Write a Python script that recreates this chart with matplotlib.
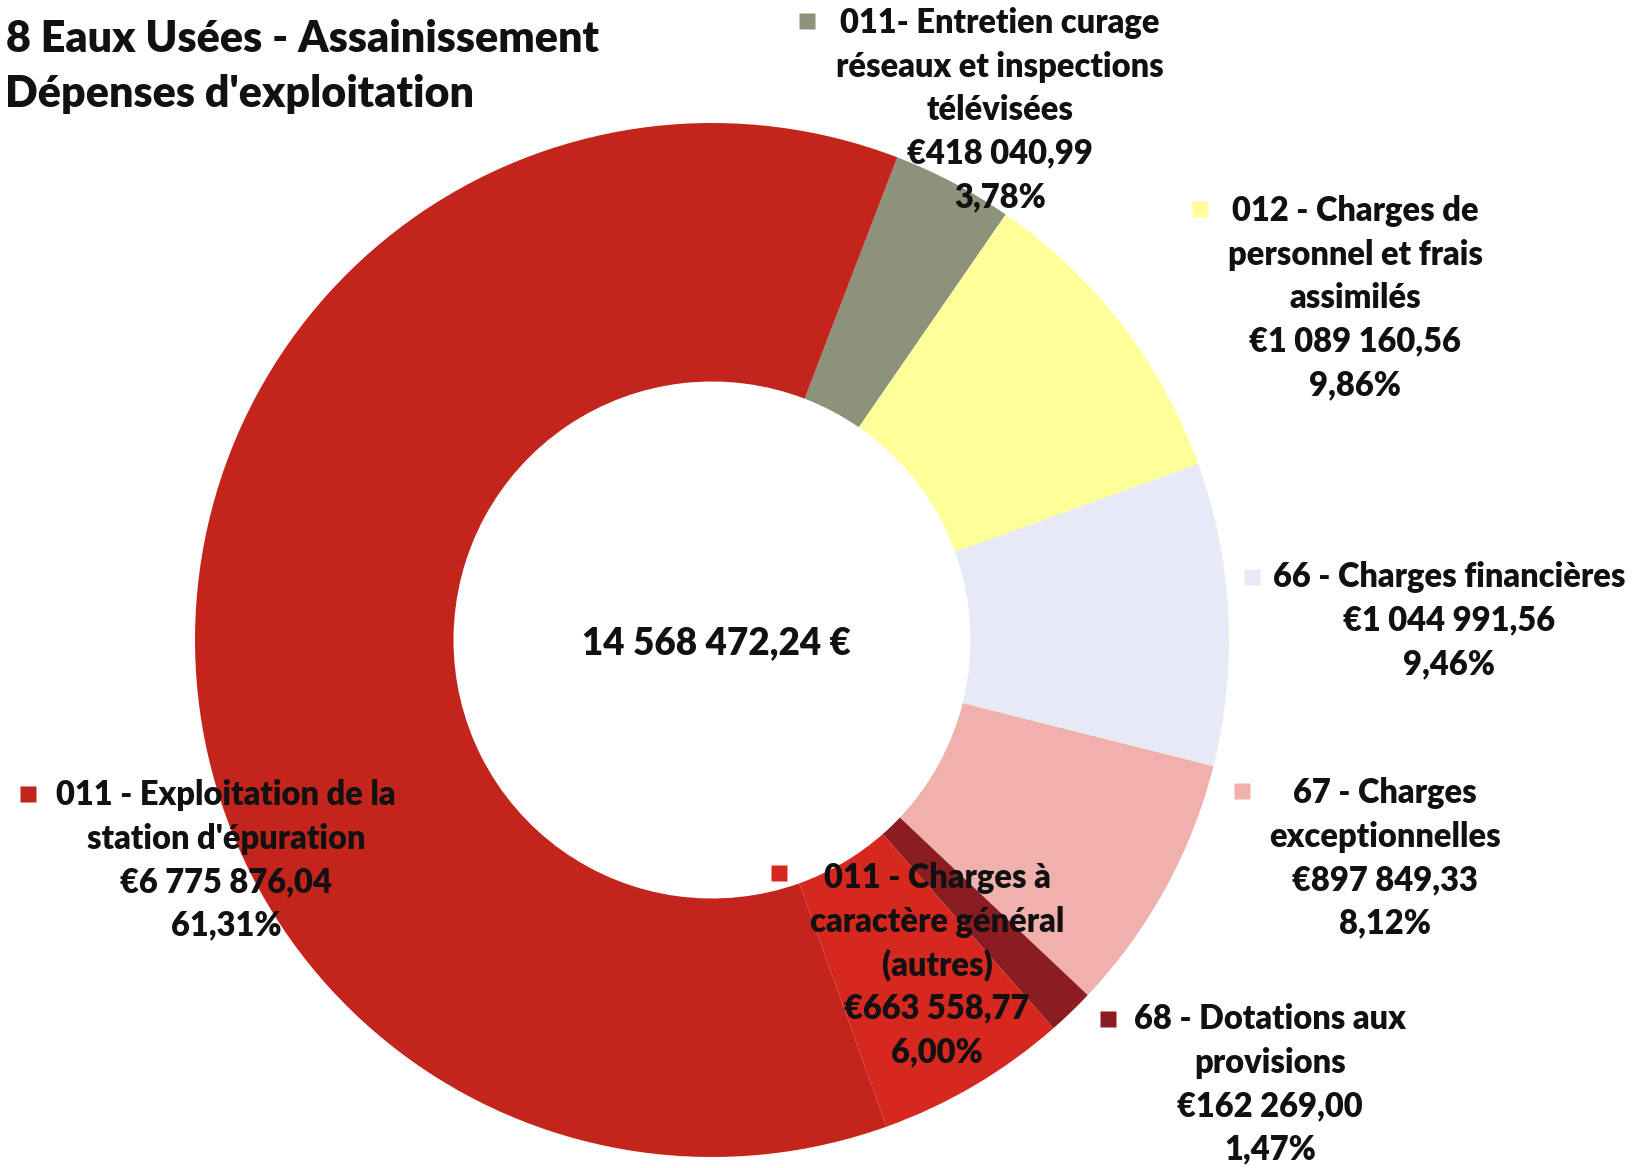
import matplotlib
matplotlib.use("Agg")
import matplotlib.pyplot as plt

# data (clockwise order, starting with the olive slice)
names = [
    ["011- Entretien curage", "réseaux et inspections", "télévisées"],
    ["012 - Charges de", "personnel et frais", "assimilés"],
    ["66 - Charges financières"],
    ["67 - Charges", "exceptionnelles"],
    ["68 - Dotations aux", "provisions"],
    ["011 - Charges à", "caractère général", "(autres)"],
    ["011 - Exploitation de la", "station d'épuration"],
]
amounts = [418040.99, 1089160.56, 1044991.56, 897849.33, 162269.00, 663558.77, 6775876.04]
percents = ["3,78%", "9,86%", "9,46%", "8,12%", "1,47%", "6,00%", "61,31%"]
colors = ["#8C937A", "#FFFF99", "#E7E9F7", "#F0B0AC", "#8B1C22", "#D6281F", "#C3241C"]
total_text = "14 568 472,24 €"
title_lines = ["8 Eaux Usées - Assainissement", "Dépenses d'exploitation"]

W, H = 1639, 1168
FONT = "Lato"
WEIGHT = "heavy"


def euro(v):
    s = f"{v:,.2f}".replace(",", " ").replace(".", ",")
    return "€" + s


fig = plt.figure(figsize=(W / 100, H / 100), dpi=100)
ax = fig.add_axes([0, 0, 1, 1])

# donut, pixel coordinates (y pointing down -> counterclock=True draws clockwise)
cx, cy, R = 712, 640, 517
ax.pie(amounts, colors=colors, center=(cx, cy), radius=R, startangle=-69,
       counterclock=True, wedgeprops=dict(width=R * 0.5, linewidth=0))
ax.set_xlim(0, W)
ax.set_ylim(H, 0)
ax.axis("off")

ax.text(716, 643, total_text, ha="center", va="center", fontsize=26.5,
        fontweight=WEIGHT, family=FONT, color="#111111")

# label layout: text centre x, first line y, legend marker position
layout = [
    (1000, 23, (807, 21)),
    (1355, 211, (1200, 209)),
    (1449, 577, (1252, 577)),
    (1385, 793, (1242, 791)),
    (1270, 1019, (1108, 1019)),
    (937, 878, (779, 873)),
    (226, 795, (28, 794)),
]
step = 43.6
for i, (tx, ty, (mx, my)) in enumerate(layout):
    lines = names[i] + [euro(amounts[i]), percents[i]]
    for k, line in enumerate(lines):
        ax.text(tx, ty + k * step, line, ha="center", va="center",
                fontsize=23.5, fontweight=WEIGHT, family=FONT, color="#111111")
    ax.plot(mx, my, marker="s", ms=11, color=colors[i], mec="none")

ax.text(599, 39, title_lines[0], ha="right", va="center", fontsize=31,
        fontweight=WEIGHT, family=FONT, color="#111111")
ax.text(5, 94, title_lines[1], ha="left", va="center", fontsize=31,
        fontweight=WEIGHT, family=FONT, color="#111111")

fig.savefig("out.png", dpi=100, facecolor="white")
